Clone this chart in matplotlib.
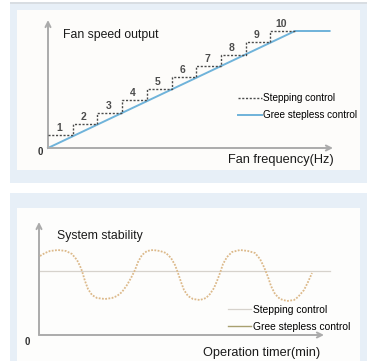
import matplotlib
matplotlib.use("Agg")
from matplotlib import pyplot as plt
from matplotlib.patches import Rectangle

plt.rcParams['font.family'] = ['Liberation Sans', 'DejaVu Sans']

# top chart: fan speed vs frequency
step_x = [0, 1, 2, 3, 4, 5, 6, 7, 8, 9, 10]
step_levels = [1.1, 2.05, 3.0, 4.1, 5.05, 6.05, 7.0, 7.95, 9.05, 10.0]
step_labels = ['1', '2', '3', '4', '5', '6', '7', '8', '9', '10']
stepless_x = [0, 10, 11.4]
stepless_y = [0, 10, 10]

# bottom chart: system stability vs time
wave_x = [0.1, 0.6, 1.1, 1.9, 2.7, 3.3, 3.8, 4.1, 4.3, 4.6, 4.9, 5.3, 5.8, 6.6,
          7.3, 7.8, 8.3, 8.8, 9.2, 9.6, 9.9, 10.3, 10.8, 11.4, 12.1, 12.7, 13.2,
          13.6, 13.9, 14.2, 14.5, 14.9, 15.4, 16.1, 16.7, 17.1, 17.5, 17.8, 18.1,
          18.4, 18.8, 19.3, 20.1, 20.9, 21.6, 22.1, 22.5, 22.9, 23.2, 23.6, 24.1,
          24.8, 25.5, 25.9, 26.5, 26.9, 27.3]
wave_y = [7.9, 8.2, 8.4, 8.5, 8.4, 8.1, 7.5, 6.9, 6.4, 5.4, 4.6, 4.0, 3.7, 3.6,
          3.7, 3.9, 4.3, 5.0, 5.7, 6.5, 7.3, 8.0, 8.4, 8.5, 8.4, 8.2, 7.7,
          7.0, 6.2, 5.3, 4.5, 3.9, 3.6, 3.5, 3.7, 4.1, 4.7, 5.4, 6.2,
          7.1, 7.8, 8.3, 8.5, 8.4, 8.2, 7.6, 6.8, 5.8, 4.9, 4.1, 3.6,
          3.4, 3.5, 3.8, 4.5, 5.3, 6.2]
flat_x = [0.1, 29.1]
flat_y = [6.4, 6.4]

W, H = 367, 361
fig = plt.figure(figsize=(W / 100, H / 100), dpi=100)
fig.patch.set_facecolor('white')


def px_rect(x0, y0, x1, y1, color):
    fig.patches.append(Rectangle((x0 / W, 1 - y1 / H), (x1 - x0) / W, (y1 - y0) / H,
                                 transform=fig.transFigure, facecolor=color,
                                 edgecolor='none', zorder=-10))


# panel backgrounds
px_rect(10, 3, 367, 183, '#e7eff7')
px_rect(17, 10, 360, 170, '#fdfcfa')
px_rect(10, 193, 367, 361, '#e7eff7')
px_rect(17, 208, 360, 361, '#fdfdfc')
px_rect(10, 2, 367, 3.5, '#d8dde2')


def draw_axes(ax, xend, yend):
    ax.set_facecolor('none')
    for s in ax.spines.values():
        s.set_visible(False)
    ax.set_xticks([])
    ax.set_yticks([])
    arrow = dict(arrowstyle='->', color='#ababab', lw=1.4, shrinkA=0, shrinkB=0,
                 mutation_scale=9)
    ax.annotate('', xy=(xend, 0), xytext=(0, 0), arrowprops=arrow, annotation_clip=False)
    ax.annotate('', xy=(0, yend), xytext=(0, 0), arrowprops=arrow, annotation_clip=False)


# ---- top chart ----
ax1 = fig.add_axes([48 / W, 1 - 148 / H, 290 / W, 132 / H])
ax1.set_xlim(0, 290 / 24.7)
ax1.set_ylim(0, 132 / 11.7)
draw_axes(ax1, 285 / 24.7, 128 / 11.7)

ax1.plot(stepless_x, stepless_y, color='#6fb3da', lw=1.4, label='Gree stepless control',
         clip_on=False, zorder=2)
ax1.step(step_x, step_levels + [step_levels[-1]], where='post', color='#4a4a4a',
         lw=1.0, ls=(0, (1.5, 1.2)), label='Stepping control', zorder=3)
for i, lab in enumerate(step_labels):
    ax1.text(step_x[i] + 0.45, step_levels[i] + 0.6, lab, fontsize=7.5,
             fontweight='bold', color='#4d4d4d', ha='center', va='center')

ax1.text(0.61, 9.66, 'Fan speed output', fontsize=8.8, color='#1a1a1a', va='center')
ax1.text(7.29, -1.05, 'Fan frequency(Hz)', fontsize=9.2, color='#1a1a1a', va='center',
         clip_on=False)
ax1.text(-0.32, -0.34, '0', fontsize=7, fontweight='bold', color='#333333',
         ha='center', va='center')

h, l = ax1.get_legend_handles_labels()
ax1.legend(h[::-1], l[::-1], loc='upper left', bbox_to_anchor=(238 / W, 1 - 93 / H),
           bbox_transform=fig.transFigure, frameon=False, fontsize=7.2, borderpad=0,
           borderaxespad=0, handlelength=2.4, handletextpad=0.1, labelspacing=0.7)

# ---- bottom chart ----
ax2 = fig.add_axes([39 / W, 1 - 335 / H, 300 / W, 115 / H])
ax2.set_xlim(0, 30)
ax2.set_ylim(0, 11.5)
draw_axes(ax2, 28.5, 11.3)

ax2.plot(flat_x, flat_y, color='#d6d2cc', lw=0.9, label='Stepping control', zorder=2)
ax2.plot(wave_x, wave_y, color='#dcb98a', lw=1.3, ls=(0, (1, 0.8)), zorder=3)
ax2.plot([], [], color='#a8a070', lw=1.0, label='Gree stepless control')

ax2.text(1.8, 9.9, 'System stability', fontsize=8.8, color='#1a1a1a', va='center')
ax2.text(16.4, -1.8, 'Operation timer(min)', fontsize=9.2, color='#1a1a1a', va='center',
         clip_on=False)
ax2.text(-1.2, -0.7, '0', fontsize=7, fontweight='bold', color='#333333',
         ha='center', va='center')

ax2.legend(loc='upper left', bbox_to_anchor=(228 / W, 1 - 305 / H),
           bbox_transform=fig.transFigure, frameon=False, fontsize=7.4, borderpad=0,
           borderaxespad=0, handlelength=2.2, handletextpad=0.25, labelspacing=0.65)

fig.savefig('out.png', dpi=100)
